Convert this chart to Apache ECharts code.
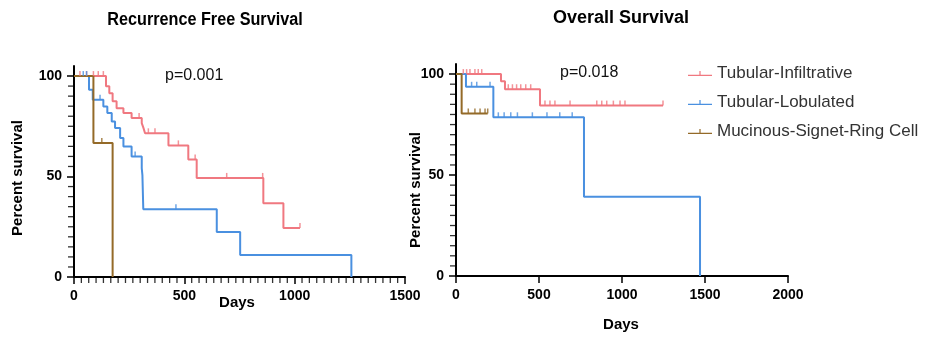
<!DOCTYPE html>
<html><head><meta charset="utf-8">
<script src="https://cdn.jsdelivr.net/npm/echarts@6/dist/echarts.min.js"></script>
<style>html,body{margin:0;padding:0;background:#fff}#c{width:931px;height:338px}</style>
</head><body><div id="c"></div>
<script>
// ---- Data ----
const seriesNames = ['Tubular-Infiltrative', 'Tubular-Lobulated', 'Mucinous-Signet-Ring Cell'];
const xTicksRFS = [0, 500, 1000, 1500];
const xTicksOS = [0, 500, 1000, 1500, 2000];
const yTickLabels = [0, 50, 100];

// Recurrence Free Survival
const rfsInfT = [0, 145, 160, 175, 193, 224, 261, 307, 315, 322, 428, 518, 556, 858, 949, 1024];
const rfsInfS = [100, 94.9, 91.5, 87.4, 84, 81.6, 79.1, 76.6, 74.1, 71.5, 65.5, 58.5, 49.3, 36.7, 24.4, 24.4];
const rfsInfC = [27, 57, 88, 110, 133, 295, 337, 367, 473, 549, 692, 855, 1024];

const rfsLobT = [0, 68, 85, 133, 151, 171, 186, 209, 224, 261, 307, 310, 314, 647, 753, 1257];
const rfsLobS = [100, 93.2, 88.2, 84.9, 81.6, 77.4, 74.1, 69.2, 65, 60, 54.2, 50.7, 33.7, 22.4, 10.9, 0];
const rfsLobC = [42, 57, 118, 277, 462];

const rfsMucT = [0, 88, 175];
const rfsMucS = [100, 66.7, 0];
const rfsMucC = [126];

// Overall Survival
const osInfT = [0, 271, 295, 506, 1247];
const osInfS = [100, 96.5, 92.5, 84.4, 84.4];
const osInfC = [44, 64, 84, 114, 134, 155, 315, 340, 365, 390, 420, 450, 536, 566, 596, 687, 848, 878, 908, 948, 988, 1018, 1247];

const osLobT = [0, 60, 225, 771, 1470];
const osLobS = [100, 93.7, 78.6, 39.3, 0];
const osLobC = [94, 125, 205, 255, 290, 330, 370, 460, 548, 625, 700];

const osMucT = [0, 34, 191];
const osMucS = [100, 80.5, 80.5];
const osMucC = [74, 114, 145, 175, 191];

// ---- Styling ----
const colors = ['#f07880', '#4a90e0', '#946a28'];
const FONT = '"Liberation Sans", Arial, sans-serif';

function steps(t, s) { return t.map((v, i) => [v, s[i]]); }
function levelAt(t, s, x) {
  let v = s[0];
  for (let i = 0; i < t.length; i++) { if (t[i] <= x) v = s[i]; }
  return v;
}
function censor(t, s, c) { return c.map(x => [x, levelAt(t, s, x)]); }

// minor tick positions (axis decoration)
const minorY = [];
for (let v = 5; v < 100; v += 5) if (v !== 50) minorY.push(v);
const minorXRFS = [];
for (let i = 1; i < 45; i++) if (i % 15 !== 0) minorXRFS.push(i * 100 / 3);

const labelStyle = { color: '#000', fontFamily: FONT, fontWeight: 'bold', fontSize: 14, margin: 12, formatter: v => String(v) };

function makeX(gi, max) {
  return {
    type: 'value', gridIndex: gi, min: 0, max: max, interval: 500,
    axisLine: { show: true, onZero: false, lineStyle: { color: '#000', width: 2 } },
    axisTick: { show: true, length: 7, lineStyle: { color: '#000', width: 1.5 } },
    splitLine: { show: false },
    axisLabel: Object.assign({}, labelStyle)
  };
}
function makeY(gi) {
  return {
    type: 'value', gridIndex: gi, min: 0, max: 105,
    axisLine: { show: true, onZero: false, lineStyle: { color: '#000', width: 2 } },
    axisTick: { show: true, length: 7, customValues: yTickLabels, lineStyle: { color: '#000', width: 1.5 } },
    splitLine: { show: false },
    axisLabel: Object.assign({ customValues: yTickLabels }, labelStyle)
  };
}

function lineSeries(name, gi, data, ci) {
  return {
    name: name, type: 'line', step: 'end', xAxisIndex: gi, yAxisIndex: gi,
    data: data, symbol: 'none', lineStyle: { color: colors[ci], width: 2 },
    itemStyle: { color: colors[ci] }, z: 3, silent: true
  };
}
function censorSeries(name, gi, data, ci) {
  return {
    name: name, type: 'scatter', xAxisIndex: gi, yAxisIndex: gi,
    data: data, symbol: 'rect', symbolSize: [1.5, 5], symbolOffset: [0, -2.5],
    itemStyle: { color: colors[ci] }, z: 4, silent: true
  };
}
// minor ticks placed through the axes' own scales
function minorTickSeries(gi, values, dir) {
  const isY = dir === 'y';
  return {
    type: 'scatter', xAxisIndex: gi, yAxisIndex: gi, silent: true, clip: false, z: 6,
    data: values.map(v => isY ? [0, v] : [v, 0]),
    symbol: 'rect',
    symbolSize: isY ? [5, 1.3] : [1.3, 5],
    symbolOffset: isY ? [-3.5, 0] : [0, 3.5],
    itemStyle: { color: '#000' }
  };
}

const chart = echarts.init(document.getElementById('c'), null, { renderer: 'canvas' });
const legendIcon = 'path://M0,8h40v2h-40zM19,2h2v6h-2z';

chart.setOption({
  animation: false,
  backgroundColor: '#fff',
  grid: [
    { left: 74, top: 66, width: 331, bottom: 61 },
    { left: 456, top: 64, width: 332, bottom: 62 }
  ],
  xAxis: [makeX(0, 1500), makeX(1, 2000)],
  yAxis: [makeY(0), makeY(1)],
  legend: {
    orient: 'vertical', left: 683, top: 60, itemWidth: 24, itemHeight: 10, itemGap: 12,
    data: seriesNames.map((n, i) => ({ name: n, icon: legendIcon, itemStyle: { color: colors[i] } })),
    textStyle: { fontFamily: FONT, fontSize: 17, color: '#333' },
    selectedMode: false
  },
  graphic: [
    { type: 'text', x: 205, y: 20, scaleX: 0.9, style: { text: 'Recurrence Free Survival', font: 'bold 18px ' + FONT, fill: '#000', align: 'center', verticalAlign: 'middle' } },
    { type: 'text', x: 621, y: 18, style: { text: 'Overall Survival', font: 'bold 18px ' + FONT, fill: '#000', align: 'center', verticalAlign: 'middle' } },
    { type: 'text', x: 18, y: 178, rotation: Math.PI / 2, style: { text: 'Percent survival', font: 'bold 15px ' + FONT, fill: '#000', align: 'center', verticalAlign: 'middle' } },
    { type: 'text', x: 416, y: 190, rotation: Math.PI / 2, style: { text: 'Percent survival', font: 'bold 15px ' + FONT, fill: '#000', align: 'center', verticalAlign: 'middle' } },
    { type: 'text', x: 237, y: 303, style: { text: 'Days', font: 'bold 15px ' + FONT, fill: '#000', align: 'center', verticalAlign: 'middle' } },
    { type: 'text', x: 621, y: 325, style: { text: 'Days', font: 'bold 15px ' + FONT, fill: '#000', align: 'center', verticalAlign: 'middle' } },
    { type: 'text', x: 165, y: 76, style: { text: 'p=0.001', font: '16px ' + FONT, fill: '#111', align: 'left', verticalAlign: 'middle' } },
    { type: 'text', x: 560, y: 73, style: { text: 'p=0.018', font: '16px ' + FONT, fill: '#111', align: 'left', verticalAlign: 'middle' } }
  ],
  series: [
    lineSeries(seriesNames[0], 0, steps(rfsInfT, rfsInfS), 0),
    censorSeries(seriesNames[0], 0, censor(rfsInfT, rfsInfS, rfsInfC), 0),
    lineSeries(seriesNames[1], 0, steps(rfsLobT, rfsLobS), 1),
    censorSeries(seriesNames[1], 0, censor(rfsLobT, rfsLobS, rfsLobC), 1),
    lineSeries(seriesNames[2], 0, steps(rfsMucT, rfsMucS), 2),
    censorSeries(seriesNames[2], 0, censor(rfsMucT, rfsMucS, rfsMucC), 2),
    lineSeries(seriesNames[0], 1, steps(osInfT, osInfS), 0),
    censorSeries(seriesNames[0], 1, censor(osInfT, osInfS, osInfC), 0),
    lineSeries(seriesNames[1], 1, steps(osLobT, osLobS), 1),
    censorSeries(seriesNames[1], 1, censor(osLobT, osLobS, osLobC), 1),
    lineSeries(seriesNames[2], 1, steps(osMucT, osMucS), 2),
    censorSeries(seriesNames[2], 1, censor(osMucT, osMucS, osMucC), 2),
    minorTickSeries(0, minorY, 'y'),
    minorTickSeries(1, minorY, 'y'),
    minorTickSeries(0, minorXRFS, 'x')
  ]
});
</script></body></html>
